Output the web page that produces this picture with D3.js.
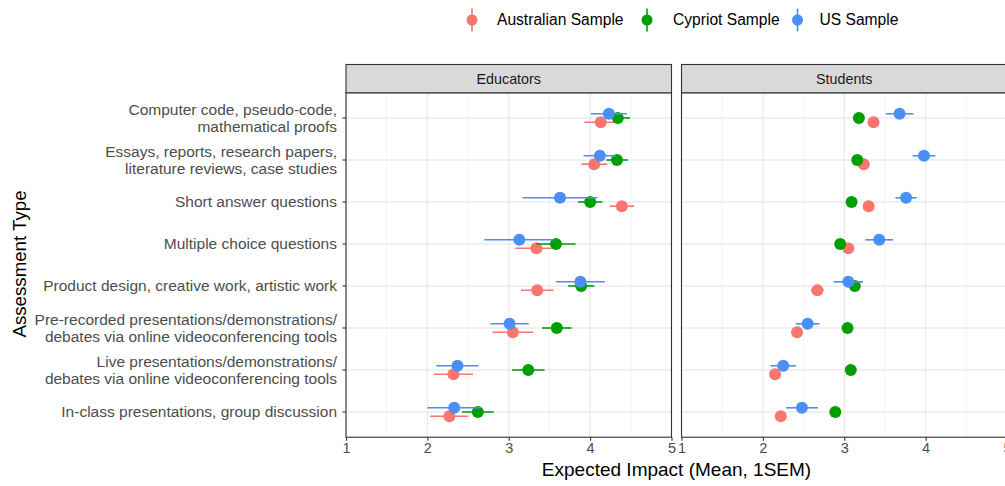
<!DOCTYPE html>
<html><head><meta charset="utf-8">
<script src="https://cdn.jsdelivr.net/npm/d3@7"></script>
<style>body{margin:0;background:#fff}svg{display:block;font-family:"Liberation Sans",Arial,Helvetica,sans-serif}</style>
</head><body><svg id="c" width="1005" height="486"></svg>
<script>
const categories = [
  "Computer code, pseudo-code,\nmathematical proofs",
  "Essays, reports, research papers,\nliterature reviews, case studies",
  "Short answer questions",
  "Multiple choice questions",
  "Product design, creative work, artistic work",
  "Pre-recorded presentations/demonstrations/\ndebates via online videoconferencing tools",
  "Live presentations/demonstrations/\ndebates via online videoconferencing tools",
  "In-class presentations, group discussion"
];
const panels = ["Educators", "Students"];
const samples = ["Australian Sample", "Cypriot Sample", "US Sample"];
const xTicks = [1, 2, 3, 4, 5];

const eduAus   = [4.13, 4.05, 4.39, 3.34, 3.35, 3.05, 2.32, 2.27];
const eduAusSE = [0.20, 0.16, 0.15, 0.26, 0.20, 0.25, 0.24, 0.235];
const eduCyp   = [4.34, 4.33, 4.00, 3.58, 3.89, 3.59, 3.24, 2.62];
const eduCypSE = [0.15, 0.13, 0.15, 0.24, 0.16, 0.18, 0.20, 0.195];
const eduUS    = [4.23, 4.12, 3.63, 3.13, 3.88, 3.01, 2.37, 2.33];
const eduUSSE  = [0.22, 0.20, 0.46, 0.43, 0.30, 0.235, 0.26, 0.33];

const stuAus   = [3.36, 3.24, 3.30, 3.05, 2.67, 2.42, 2.15, 2.22];
const stuAusSE = [0.05, 0.05, 0.05, 0.05, 0.08, 0.05, 0.05, 0.05];
const stuCyp   = [3.18, 3.16, 3.09, 2.95, 3.13, 3.04, 3.08, 2.89];
const stuCypSE = [0.05, 0.05, 0.05, 0.05, 0.05, 0.05, 0.05, 0.05];
const stuUS    = [3.68, 3.98, 3.76, 3.43, 3.05, 2.55, 2.25, 2.48];
const stuUSSE  = [0.17, 0.14, 0.13, 0.17, 0.18, 0.145, 0.155, 0.195];

const colors = ["#F8766D", "#009E00", "#4A8FF5"];

const panelData = {
  Educators: [[eduAus, eduAusSE], [eduCyp, eduCypSE], [eduUS, eduUSSE]],
  Students:  [[stuAus, stuAusSE], [stuCyp, stuCypSE], [stuUS, stuUSSE]]
};

const svg = d3.select("#c");
svg.append("rect").attr("width", 1005).attr("height", 486).attr("fill", "#fff");

const yTop = 92.8, yBot = 437.2, stripTop = 64.5;
const panelX = {Educators: [346, 671.5], Students: [681.5, 1007]};
const y = d3.scalePoint().domain(categories).range([yTop, yBot]).padding(0.6);
const step = y.step();
const dodge = [0.1, 0, -0.1]; // Aus lower, Cyp middle, US upper

panels.forEach(p => {
  const [x0, x1] = panelX[p];
  const x = d3.scaleLinear().domain([1, 5]).range([x0, x1]);
  const g = svg.append("g");
  g.append("rect").attr("x", x0).attr("y", yTop).attr("width", x1 - x0).attr("height", yBot - yTop).attr("fill", "#fff");
  const minor = [1.5, 2.5, 3.5, 4.5];
  g.selectAll(".mn").data(minor).join("line")
    .attr("x1", d => x(d)).attr("x2", d => x(d)).attr("y1", yTop).attr("y2", yBot)
    .attr("stroke", "#f0f0f0").attr("stroke-width", 0.8);
  g.selectAll(".mj").data(xTicks).join("line")
    .attr("x1", d => x(d)).attr("x2", d => x(d)).attr("y1", yTop).attr("y2", yBot)
    .attr("stroke", "#ebebeb").attr("stroke-width", 1.3);
  g.selectAll(".mjy").data(categories).join("line")
    .attr("x1", x0).attr("x2", x1).attr("y1", d => y(d)).attr("y2", d => y(d))
    .attr("stroke", "#ebebeb").attr("stroke-width", 1.3);

  panelData[p].forEach((s, si) => {
    const [m, se] = s;
    const pts = categories.map((c, i) => ({c, m: m[i], se: se[i]}));
    const gg = g.append("g");
    const yy = d => y(d.c) + dodge[si] * step;
    pts.forEach(d => {
      gg.append("line")
        .attr("x1", x(d.m - d.se)).attr("x2", x(d.m + d.se))
        .attr("y1", yy(d)).attr("y2", yy(d))
        .attr("stroke", colors[si]).attr("stroke-width", 1.6);
      gg.append("circle")
        .attr("cx", x(d.m)).attr("cy", yy(d)).attr("r", 6)
        .attr("fill", colors[si]);
    });
  });

  g.append("rect").attr("x", x0).attr("y", yTop).attr("width", x1 - x0).attr("height", yBot - yTop)
    .attr("fill", "none").attr("stroke", "#333").attr("stroke-width", 1.1);
  g.append("rect").attr("x", x0).attr("y", stripTop).attr("width", x1 - x0).attr("height", yTop - stripTop)
    .attr("fill", "#d9d9d9").attr("stroke", "#333").attr("stroke-width", 1.1);
  g.append("text").attr("x", (x0 + x1) / 2).attr("y", (stripTop + yTop) / 2).attr("dy", "0.35em")
    .attr("text-anchor", "middle").attr("font-size", 14.3).attr("fill", "#1a1a1a").text(p);

  const ax = g.append("g").attr("transform", `translate(0,${yBot})`)
    .call(d3.axisBottom(x).tickValues(xTicks).tickFormat(d3.format("d")).tickSize(3.5).tickPadding(2));
  ax.select(".domain").remove();
  ax.selectAll("line").attr("stroke", "#333").attr("stroke-width", 1.1);
  ax.selectAll("text").attr("font-size", 14.5).attr("fill", "#4d4d4d").attr("font-family", "Liberation Sans, Arial, sans-serif");
});

const yAxis = svg.append("g");
categories.forEach(c => {
  const yy = y(c);
  yAxis.append("line").attr("x1", 342.5).attr("x2", 346).attr("y1", yy).attr("y2", yy)
    .attr("stroke", "#333").attr("stroke-width", 1.1);
  const lines = c.split("\n");
  const lh = 16.5;
  const t = yAxis.append("text").attr("text-anchor", "end").attr("font-size", 15.5).attr("fill", "#4d4d4d");
  lines.forEach((ln, i) => {
    t.append("tspan").attr("x", 337)
      .attr("y", yy + (i - (lines.length - 1) / 2) * lh).attr("dy", "0.35em").text(ln);
  });
});

svg.append("text").attr("x", (346 + 1007) / 2).attr("y", 476).attr("text-anchor", "middle")
  .attr("font-size", 19).attr("fill", "#000").text("Expected Impact (Mean, 1SEM)");
svg.append("text").attr("transform", `translate(26,${(yTop + yBot) / 2 - 1}) rotate(-90)`)
  .attr("text-anchor", "middle").attr("font-size", 18.7).attr("fill", "#000").text("Assessment Type");

const legX = [472, 647, 797.5];
const legTX = [497, 673, 819.5];
samples.forEach((s, i) => {
  const lg = svg.append("g");
  lg.append("line").attr("x1", legX[i]).attr("x2", legX[i]).attr("y1", 8.5).attr("y2", 31.5)
    .attr("stroke", colors[i]).attr("stroke-width", 1.6);
  lg.append("circle").attr("cx", legX[i]).attr("cy", 20).attr("r", 5.5).attr("fill", colors[i]);
  lg.append("text").attr("x", legTX[i]).attr("y", 20).attr("dy", "0.35em")
    .attr("font-size", 15.6).attr("fill", "#000").text(s);
});
</script></body></html>
